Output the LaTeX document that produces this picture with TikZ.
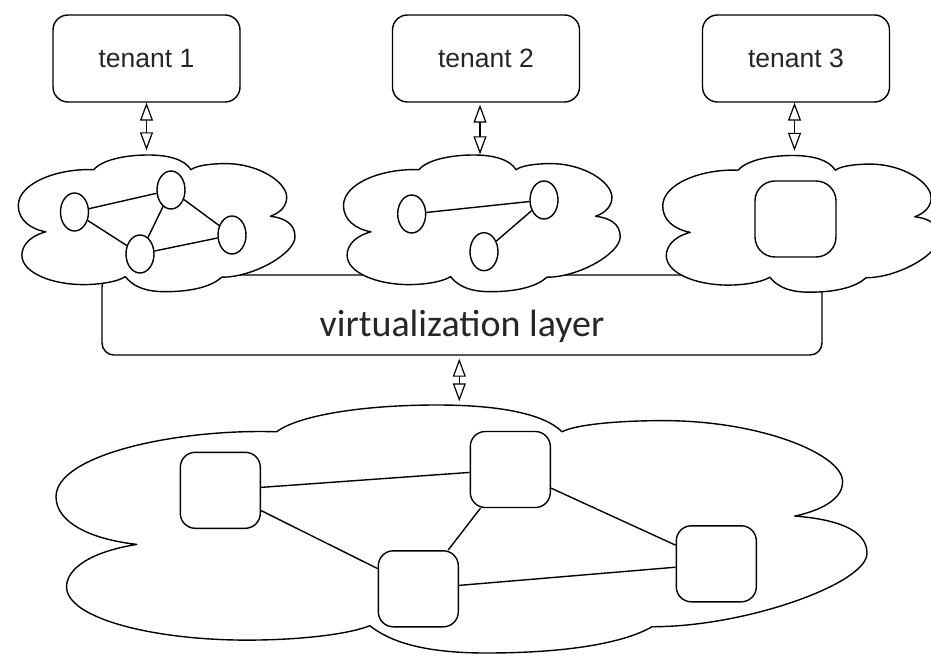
\documentclass[tikz,border=0pt]{standalone}
\usepackage{fontspec}
\setmainfont{Liberation Sans}
\newfontfamily\calfont{Carlito}
\usetikzlibrary{arrows.meta,shapes.geometric}
\newcommand\mycloud[4]{%
\begin{scope}[shift={(#1,#2)}, xscale=#3, yscale=#4]
\filldraw[cloudline] (0.272,0.108) .. controls (0.15,0.095) and (0,0.2) .. (0,0.37)
 .. controls (0,0.47) and (0.04,0.54) .. (0.0995,0.562)
 .. controls (0.03,0.6) and (0.013,0.68) .. (0.013,0.733)
 .. controls (0.013,0.86) and (0.12,0.948) .. (0.235,0.948)
 .. controls (0.3,0.948) and (0.36,0.925) .. (0.387,0.890)
 .. controls (0.41,0.95) and (0.45,1.0) .. (0.53,1.0)
 .. controls (0.63,1.0) and (0.70,0.96) .. (0.735,0.894)
 .. controls (0.85,0.895) and (1.0,0.72) .. (1.0,0.598)
 .. controls (1.0,0.5) and (0.96,0.46) .. (0.911,0.448)
 .. controls (0.95,0.42) and (0.97,0.37) .. (0.97,0.309)
 .. controls (0.97,0.2) and (0.87,0.063) .. (0.749,0.063)
 .. controls (0.69,0.063) and (0.64,0.08) .. (0.624,0.108)
 .. controls (0.6,0.03) and (0.54,0.0) .. (0.47,0.0)
 .. controls (0.38,0.0) and (0.3,0.04) .. (0.272,0.108) -- cycle;
\end{scope}}
\begin{document}
\begin{tikzpicture}[x=1pt,y=-1pt, line width=1.4pt, line join=round,
  box/.style={draw, rounded corners=15pt, minimum width=187pt, minimum height=87pt, inner sep=0pt, font=\fontsize{26.5}{30}\selectfont, fill=white, text=black!85},
  vnode/.style={draw, ellipse, minimum width=28pt, minimum height=38pt, inner sep=0pt, fill=white},
  snode/.style={draw, rounded corners=15pt, minimum width=80pt, minimum height=76pt, inner sep=0pt, fill=white},
  cloudline/.style={draw=black, fill=white},
  dar/.style={{Triangle[open,length=18pt,width=13pt]}-{Triangle[open,length=18pt,width=13pt]}, line width=1.2pt},
]
\useasboundingbox (0,0) rectangle (931,663);
\clip (0,0) rectangle (931,663);

% virtualization layer (behind the clouds)
\node[draw, rounded corners=12pt, minimum width=720pt, minimum height=80pt, inner sep=0pt, fill=white] (vl) at (462,315) {};
\node[font=\calfont\fontsize{38}{44}\selectfont, anchor=base, inner sep=0pt, text=black!85] (vltext) at (462,336) {virtualization layer};

% tenants
\node[box] (t1) at (146.5,58.5) {tenant 1};
\node[box] (t2) at (486,58.5) {tenant 2};
\node[box] (t3) at (796,58.5) {tenant 3};

% clouds
\mycloud{18.3}{155}{276.7}{136.7}
\mycloud{343.5}{155}{276.7}{136.7}
\mycloud{662.7}{155.5}{276.7}{136.7}
\mycloud{56}{405}{811}{248}

\node[inner sep=0pt, minimum width=276.7pt, minimum height=136.7pt] (cloud1) at (156.65,223.35) {};
\node[inner sep=0pt, minimum width=276.7pt, minimum height=136.7pt] (cloud2) at (481.85,223.35) {};
\node[inner sep=0pt, minimum width=276.7pt, minimum height=136.7pt] (cloud3) at (801.05,223.85) {};
\node[inner sep=0pt, minimum width=811pt, minimum height=248pt] (cloudB) at (461.5,529) {};

% cloud 1 network
\node[vnode] (e1) at (74.5,212) {};
\node[vnode] (e2) at (171,190) {};
\node[vnode] (e3) at (140,254) {};
\node[vnode] (e4) at (232,235) {};
\draw (e1) -- (e2);
\draw (e1) -- (e3);
\draw (e2) -- (e3);
\draw (e2) -- (e4);
\draw (e3) -- (e4);

% cloud 2 network
\node[vnode] (f1) at (411.7,214) {};
\node[vnode] (f2) at (544,200) {};
\node[vnode] (f3) at (484,251.7) {};
\draw (f1) -- (f2);
\draw (f2) -- (f3);

% cloud 3
\node[draw, rounded corners=20pt, minimum width=81pt, minimum height=76pt, inner sep=0pt, fill=white] (g1) at (795.5,219) {};

% physical network
\node[snode] (b1) at (220.3,490.3) {};
\node[snode] (b2) at (510.3,469.5) {};
\node[snode] (b3) at (418.3,588.8) {};
\node[snode] (b4) at (716.3,563.8) {};
\draw (b1) -- (b2);
\draw (b1) -- (b3);
\draw (b2) -- (b3);
\draw (b2) -- (b4);
\draw (b3) -- (b4);

% arrows
\draw[dar, shorten >=4pt] (t1.south) -- (t1.south |- cloud1.north);
\draw[dar, shorten <=2pt] ([xshift=-6pt]t2.south) -- ([xshift=-6pt]t2.south |- cloud2.north);
\draw[dar, shorten >=4pt] ([xshift=-1.5pt]t3.south) -- ([xshift=-1.5pt]t3.south |- cloud3.north);
\draw[dar, shorten <=3pt, shorten >=3pt] ([xshift=-2.7pt]vl.south) -- ([xshift=-2.7pt]vl.south |- cloudB.north);
\end{tikzpicture}
\end{document}
